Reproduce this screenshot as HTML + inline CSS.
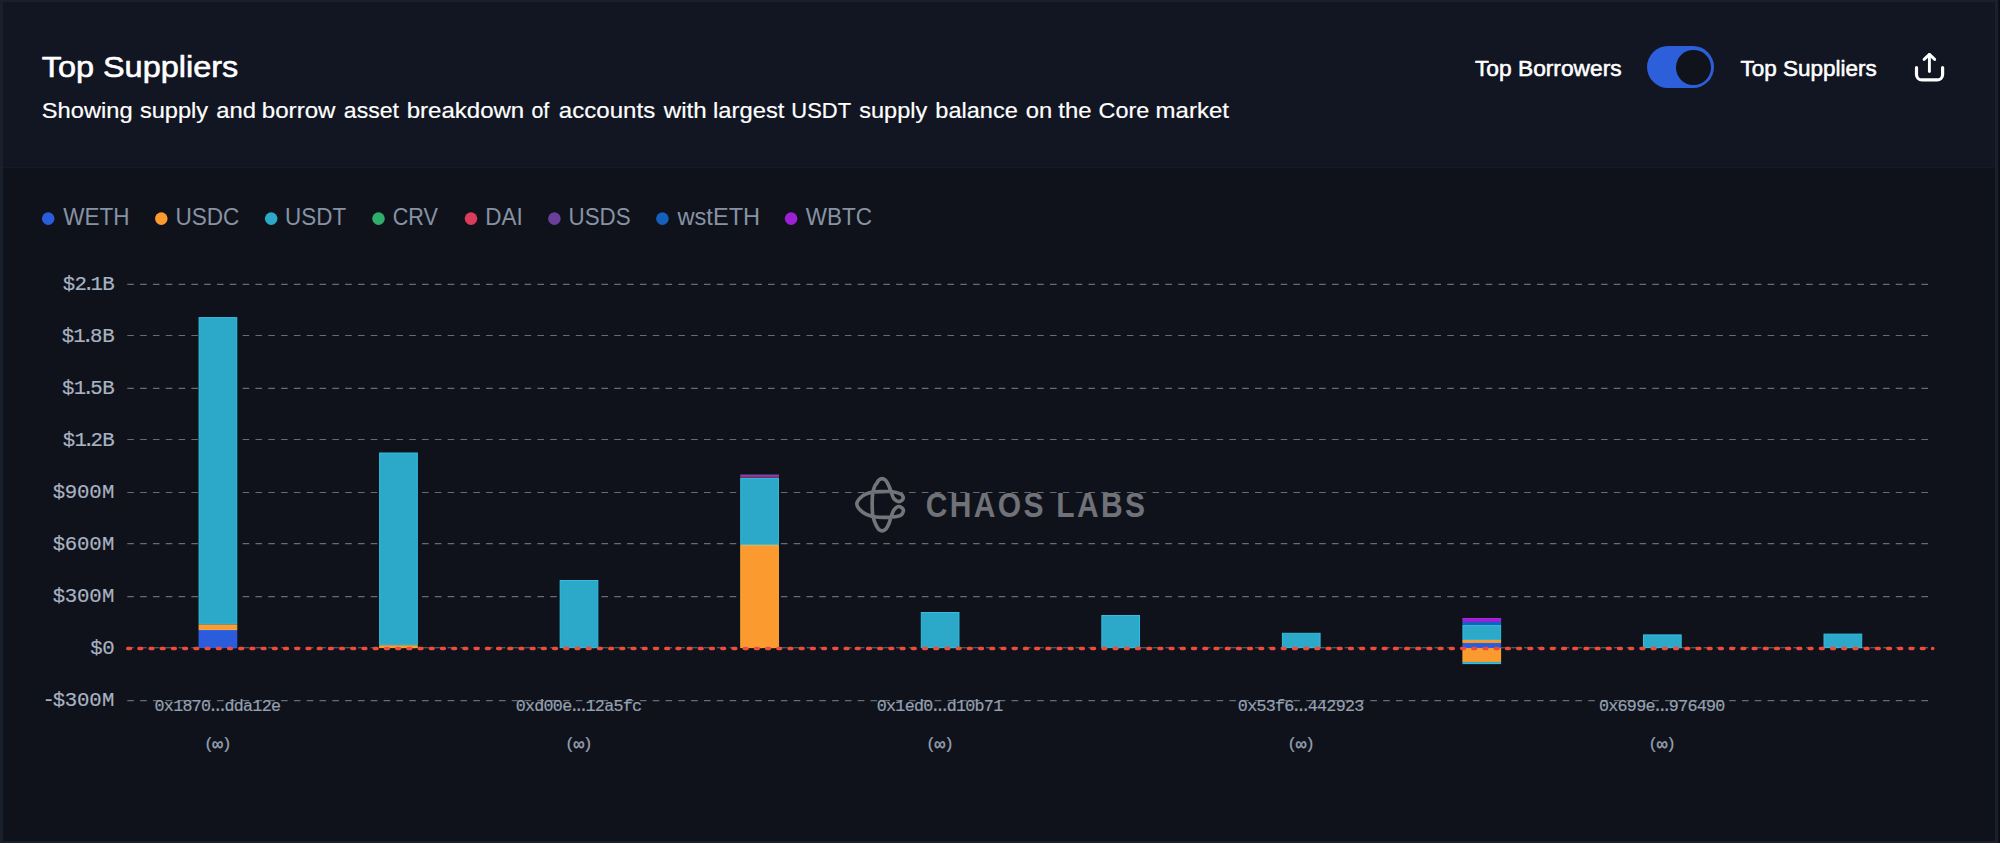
<!DOCTYPE html>
<html lang="en"><head><meta charset="utf-8"><title>Top Suppliers</title>
<style>
html,body{margin:0;padding:0;background:#0c0f17;}
body{width:2000px;height:843px;position:relative;overflow:hidden;font-family:"Liberation Sans",sans-serif;}
.card{position:absolute;left:0;top:0;width:1998.4px;height:843px;box-sizing:border-box;background:#121623;border-style:solid;border-color:#1a1f2c;border-width:2px 3.4px 2px 3px;}
.chart{position:absolute;left:3px;top:168px;width:1992px;height:673px;background:#0f121b;}
.title{font-size:30.4px;fill:#fff;stroke:#fff;stroke-width:0.6px;stroke-linejoin:round}
.sub{font-size:22.5px;fill:#fff;stroke:#fff;stroke-width:0.2px;font-kerning:none}
.tg{font-size:22.4px;fill:#fff;stroke:#fff;stroke-width:0.55px;stroke-linejoin:round}
.switch{position:absolute;left:1646.6px;top:45.6px;width:67.8px;height:42.3px;border-radius:22px;background:#2d5fdb}
.knob{position:absolute;left:1676.2px;top:50.1px;width:34.5px;height:34.5px;border-radius:50%;background:#10131c}
.lt{font-size:23.6px;fill:#8793a3}
.sep{position:absolute;left:3px;top:167px;width:1992px;height:1px;background:#151a28}
svg{position:absolute;left:0;top:0}
.grid{stroke:#676c74;stroke-width:1.2;stroke-dasharray:6.6 6.215}
.zero{stroke:#ee4b3b;stroke-width:3.3;stroke-dasharray:2.9 8.31;stroke-linecap:round}
.yl{font-family:"Liberation Mono",monospace;font-size:20.3px;fill:#a9b3c2;stroke:#a9b3c2;stroke-width:0.18px;text-anchor:middle}
.xl{font-family:"Liberation Mono",monospace;font-size:17.2px;fill:#96a1b1;stroke:#96a1b1;stroke-width:0.2px;text-anchor:middle}
.wmt{font-family:"Liberation Sans",sans-serif;font-weight:700;font-size:35.3px;fill:#707277}
</style></head><body>
<div class="card"></div>
<div class="chart"></div><div class="sep"></div>
<div class="switch"></div><div class="knob"></div>
<svg width="40" height="40" viewBox="0 0 40 40" style="left:1909px;top:46px" fill="none" stroke="#fff" stroke-linecap="round" stroke-linejoin="round">
<path stroke-width="3.2" d="M7.5,21.6 V28.4 a5.5,5.5 0 0 0 5.5,5.5 H28.1 a5.5,5.5 0 0 0 5.5,-5.5 V21.6"/><path stroke-width="2.9" d="M20.4,25.6 V8.8"/><path stroke-width="2.9" d="M15.1,13.4 L20.4,8.4 L25.7,13.4"/></svg>
<svg width="2000" height="843" viewBox="0 0 2000 843">
<text x="41.7" y="76.9" class="title" textLength="196.5" lengthAdjust="spacingAndGlyphs">Top Suppliers</text>
<text y="118.4" class="sub"><tspan x="41.83" textLength="90.80" lengthAdjust="spacingAndGlyphs">Showing</tspan> <tspan x="139.94" textLength="68.20" lengthAdjust="spacingAndGlyphs">supply</tspan> <tspan x="216.39" textLength="39.75" lengthAdjust="spacingAndGlyphs">and</tspan> <tspan x="261.85" textLength="73.59" lengthAdjust="spacingAndGlyphs">borrow</tspan> <tspan x="343.82" textLength="55.15" lengthAdjust="spacingAndGlyphs">asset</tspan> <tspan x="406.65" textLength="117.61" lengthAdjust="spacingAndGlyphs">breakdown</tspan> <tspan x="531.51" textLength="17.76" lengthAdjust="spacingAndGlyphs">of</tspan> <tspan x="558.88" textLength="96.29" lengthAdjust="spacingAndGlyphs">accounts</tspan> <tspan x="663.74" textLength="42.93" lengthAdjust="spacingAndGlyphs">with</tspan> <tspan x="713.05" textLength="71.33" lengthAdjust="spacingAndGlyphs">largest</tspan> <tspan x="791.36" textLength="59.70" lengthAdjust="spacingAndGlyphs">USDT</tspan> <tspan x="859.25" textLength="68.00" lengthAdjust="spacingAndGlyphs">supply</tspan> <tspan x="935.38" textLength="82.46" lengthAdjust="spacingAndGlyphs">balance</tspan> <tspan x="1025.70" textLength="26.44" lengthAdjust="spacingAndGlyphs">on</tspan> <tspan x="1058.34" textLength="33.22" lengthAdjust="spacingAndGlyphs">the</tspan> <tspan x="1098.61" textLength="50.62" lengthAdjust="spacingAndGlyphs">Core</tspan> <tspan x="1155.61" textLength="73.27" lengthAdjust="spacingAndGlyphs">market</tspan></text>
<text x="1475.0" y="76.2" class="tg" textLength="146.6" lengthAdjust="spacingAndGlyphs">Top Borrowers</text>
<text x="1740.5" y="76.2" class="tg" textLength="136.2" lengthAdjust="spacingAndGlyphs">Top Suppliers</text>
<circle cx="48.2" cy="218.6" r="6.3" fill="#2b5cdb"/><text x="63.3" y="225.3" class="lt" textLength="66.3" lengthAdjust="spacingAndGlyphs">WETH</text><circle cx="161.3" cy="218.6" r="6.3" fill="#fb9b2f"/><text x="175.4" y="225.3" class="lt" textLength="64" lengthAdjust="spacingAndGlyphs">USDC</text><circle cx="271.2" cy="218.6" r="6.3" fill="#2ca8c8"/><text x="285.1" y="225.3" class="lt" textLength="61" lengthAdjust="spacingAndGlyphs">USDT</text><circle cx="378.5" cy="218.6" r="6.3" fill="#2fae6b"/><text x="392.7" y="225.3" class="lt" textLength="45.2" lengthAdjust="spacingAndGlyphs">CRV</text><circle cx="471" cy="218.6" r="6.3" fill="#dc3c5c"/><text x="485.3" y="225.3" class="lt" textLength="37.5" lengthAdjust="spacingAndGlyphs">DAI</text><circle cx="554.4" cy="218.6" r="6.3" fill="#6a3f9c"/><text x="568.5" y="225.3" class="lt" textLength="62.2" lengthAdjust="spacingAndGlyphs">USDS</text><circle cx="662.4" cy="218.6" r="6.3" fill="#1560bd"/><text x="677.5" y="225.3" class="lt" textLength="82.6" lengthAdjust="spacingAndGlyphs">wstETH</text><circle cx="791.1" cy="218.6" r="6.3" fill="#9b20d6"/><text x="805.8" y="225.3" class="lt" textLength="66.2" lengthAdjust="spacingAndGlyphs">WBTC</text>
<g class="wm">
<path transform="translate(846,470) scale(0.08304)" d="M435.0,104.0 C447.3,104.0 461.0,110.7 472.0,120.0 C483.0,129.3 492.5,145.3 501.0,160.0 C509.5,174.7 516.3,192.2 523.0,208.0 C529.7,223.8 535.5,239.7 541.0,255.0 C546.5,270.3 549.8,284.8 556.0,300.0 C562.2,315.2 566.3,332.7 578.0,346.0 C589.7,359.3 609.7,377.3 626.0,380.0 C642.3,382.7 665.7,371.2 676.0,362.0 C686.3,352.8 691.2,337.3 688.0,325.0 C684.8,312.7 678.3,298.5 657.0,288.0 C635.7,277.5 596.2,266.7 560.0,262.0 C523.8,257.3 481.7,259.0 440.0,260.0 C398.3,261.0 350.0,259.3 310.0,268.0 C270.0,276.7 230.0,288.3 200.0,312.0 C170.0,335.7 130.0,377.3 130.0,410.0 C130.0,442.7 170.0,483.7 200.0,508.0 C230.0,532.3 270.0,545.7 310.0,556.0 C350.0,566.3 398.3,568.3 440.0,570.0 C481.7,571.7 523.8,570.0 560.0,566.0 C596.2,562.0 635.3,557.5 657.0,546.0 C678.7,534.5 686.8,511.7 690.0,497.0 C693.2,482.3 686.0,467.5 676.0,458.0 C666.0,448.5 645.7,437.3 630.0,440.0 C614.3,442.7 594.0,460.3 582.0,474.0 C570.0,487.7 564.8,506.0 558.0,522.0 C551.2,538.0 546.8,552.3 541.0,570.0 C535.2,587.7 529.7,609.7 523.0,628.0 C516.3,646.3 509.5,664.8 501.0,680.0 C492.5,695.2 483.0,710.0 472.0,719.0 C461.0,728.0 447.3,734.0 435.0,734.0 C422.7,734.0 408.8,728.0 398.0,719.0 C387.2,710.0 379.0,696.5 370.0,680.0 C361.0,663.5 352.0,643.3 344.0,620.0 C336.0,596.7 326.8,575.0 322.0,540.0 C317.2,505.0 315.0,453.3 315.0,410.0 C315.0,366.7 317.2,315.0 322.0,280.0 C326.8,245.0 336.0,220.0 344.0,200.0 C352.0,180.0 361.0,173.3 370.0,160.0 C379.0,146.7 387.2,129.3 398.0,120.0 C408.8,110.7 422.7,104.0 435.0,104.0Z" fill="none" stroke="#737579" stroke-width="44" stroke-linejoin="round"/>
<text transform="translate(925.8,517.4) scale(0.85,1)" x="0" y="0" class="wmt" textLength="257.9" lengthAdjust="spacing">CHAOS LABS</text></g>
<line x1="127.3" x2="1933" y1="284.30" y2="284.30" class="grid"/>
<line x1="127.3" x2="1933" y1="335.50" y2="335.50" class="grid"/>
<line x1="127.3" x2="1933" y1="388.40" y2="388.40" class="grid"/>
<line x1="127.3" x2="1933" y1="439.50" y2="439.50" class="grid"/>
<line x1="127.3" x2="1933" y1="492.50" y2="492.50" class="grid"/>
<line x1="127.3" x2="1933" y1="543.60" y2="543.60" class="grid"/>
<line x1="127.3" x2="1933" y1="596.60" y2="596.60" class="grid"/>
<line x1="127.3" x2="1933" y1="647.75" y2="647.75" class="grid"/>
<line x1="127.3" x2="1933" y1="700.70" y2="700.70" class="grid"/>
<rect x="199.08" y="630.50" width="37.7" height="17.10" fill="#2b5cdb" stroke="#2f63ea" stroke-width="1"/>
<rect x="199.08" y="624.90" width="37.7" height="4.60" fill="#fb9b2f" stroke="#ffa533" stroke-width="1"/>
<rect x="199.08" y="317.60" width="37.7" height="306.30" fill="#2ca8c8" stroke="#33bfe2" stroke-width="1"/>
<rect x="379.62" y="645.70" width="37.7" height="1.90" fill="#fb9b2f" stroke="#ffa533" stroke-width="1"/>
<rect x="379.62" y="453.00" width="37.7" height="191.70" fill="#2ca8c8" stroke="#33bfe2" stroke-width="1"/>
<rect x="560.17" y="580.50" width="37.7" height="67.10" fill="#2ca8c8" stroke="#33bfe2" stroke-width="1"/>
<rect x="740.73" y="545.50" width="37.7" height="102.10" fill="#fb9b2f" stroke="#ffa533" stroke-width="1"/>
<rect x="740.73" y="478.40" width="37.7" height="66.10" fill="#2ca8c8" stroke="#33bfe2" stroke-width="1"/>
<rect x="740.23" y="476.80" width="38.7" height="1.10" fill="#98285a"/>
<rect x="740.73" y="475.00" width="37.7" height="1.30" fill="#6a3f9c" stroke="#7c4ab2" stroke-width="1"/>
<rect x="921.27" y="612.50" width="37.7" height="35.10" fill="#2ca8c8" stroke="#33bfe2" stroke-width="1"/>
<rect x="1101.83" y="615.50" width="37.7" height="32.10" fill="#2ca8c8" stroke="#33bfe2" stroke-width="1"/>
<rect x="1282.38" y="633.30" width="37.7" height="14.30" fill="#2ca8c8" stroke="#33bfe2" stroke-width="1"/>
<rect x="1462.93" y="643.40" width="37.7" height="4.20" fill="#2b5cdb" stroke="#2f63ea" stroke-width="1"/>
<rect x="1462.93" y="640.40" width="37.7" height="2.00" fill="#fb9b2f" stroke="#ffa533" stroke-width="1"/>
<rect x="1462.93" y="625.40" width="37.7" height="14.00" fill="#2ca8c8" stroke="#33bfe2" stroke-width="1"/>
<rect x="1462.93" y="622.30" width="37.7" height="2.10" fill="#1560bd" stroke="#1768cc" stroke-width="1"/>
<rect x="1462.93" y="618.50" width="37.7" height="2.80" fill="#9b20d6" stroke="#a826e6" stroke-width="1"/>
<rect x="1462.93" y="648.60" width="37.7" height="13.10" fill="#fb9b2f" stroke="#ffa533" stroke-width="1"/>
<rect x="1462.93" y="662.70" width="37.7" height="0.90" fill="#2ca8c8" stroke="#33bfe2" stroke-width="1"/>
<rect x="1643.48" y="634.90" width="37.7" height="12.70" fill="#2ca8c8" stroke="#33bfe2" stroke-width="1"/>
<rect x="1824.03" y="634.10" width="37.7" height="13.50" fill="#2ca8c8" stroke="#33bfe2" stroke-width="1"/>
<line x1="127.65" x2="1932.9" y1="648.5" y2="648.5" class="zero"/>
<g transform="scale(1.02,1)"><text x="67.60 79.07 87.01 94.95 106.42" y="289.90" class="yl">$2.1B</text></g>
<g transform="scale(1.02,1)"><text x="66.52 77.99 85.93 94.41 106.42" y="341.95" class="yl">$1.8B</text></g>
<g transform="scale(1.02,1)"><text x="67.01 78.48 86.42 94.66 106.42" y="394.00" class="yl">$1.5B</text></g>
<g transform="scale(1.02,1)"><text x="67.60 79.07 87.01 94.95 106.42" y="446.05" class="yl">$1.2B</text></g>
<g transform="scale(1.02,1)"><text x="57.89 69.61 81.57 93.53 106.13" y="498.10" class="yl">$900M</text></g>
<g transform="scale(1.02,1)"><text x="57.89 69.61 81.57 93.53 106.13" y="550.15" class="yl">$600M</text></g>
<g transform="scale(1.02,1)"><text x="57.89 69.61 81.57 93.53 106.13" y="602.20" class="yl">$300M</text></g>
<g transform="scale(1.02,1)"><text x="94.66 106.37" y="654.25" class="yl">$0</text></g>
<g transform="scale(1.02,1)"><text x="47.89 57.89 69.61 81.57 93.53 106.13" y="706.30" class="yl">-$300M</text></g>
<g transform="scale(0.97,1)"><text x="164.51 174.10 183.69 193.27 202.86 212.45 219.66 224.51 229.36 236.57 246.16 255.75 265.34 274.92 284.51" y="710.80" class="xl">0x1870...dda12e</text></g>
<text x="208.88 217.78 226.68" y="749.4 750.3 749.4" class="xl" style="font-size:16.6px">(<tspan style="stroke-width:0.45px;font-size:18px">∞</tspan>)</text>
<g transform="scale(0.97,1)"><text x="536.78 546.37 555.95 565.54 575.13 584.72 591.93 596.78 601.62 608.84 618.43 628.02 637.60 647.19 656.78" y="710.80" class="xl">0xd00e...12a5fc</text></g>
<text x="569.98 578.88 587.77" y="749.4 750.3 749.4" class="xl" style="font-size:16.6px">(<tspan style="stroke-width:0.45px;font-size:18px">∞</tspan>)</text>
<g transform="scale(0.97,1)"><text x="909.05 918.63 928.22 937.81 947.40 956.98 964.20 969.05 973.89 981.11 990.70 1000.28 1009.87 1019.46 1029.05" y="710.80" class="xl">0x1ed0...d10b71</text></g>
<text x="931.08 939.98 948.88" y="749.4 750.3 749.4" class="xl" style="font-size:16.6px">(<tspan style="stroke-width:0.45px;font-size:18px">∞</tspan>)</text>
<g transform="scale(0.97,1)"><text x="1281.31 1290.90 1300.49 1310.08 1319.66 1329.25 1336.47 1341.31 1346.16 1353.38 1362.96 1372.55 1382.14 1391.73 1401.31" y="710.80" class="xl">0x53f6...442923</text></g>
<text x="1292.17 1301.08 1309.98" y="749.4 750.3 749.4" class="xl" style="font-size:16.6px">(<tspan style="stroke-width:0.45px;font-size:18px">∞</tspan>)</text>
<g transform="scale(0.97,1)"><text x="1653.58 1663.17 1672.76 1682.35 1691.93 1701.52 1708.74 1713.58 1718.43 1725.64 1735.23 1744.82 1754.41 1763.99 1773.58" y="710.80" class="xl">0x699e...976490</text></g>
<text x="1653.28 1662.18 1671.08" y="749.4 750.3 749.4" class="xl" style="font-size:16.6px">(<tspan style="stroke-width:0.45px;font-size:18px">∞</tspan>)</text>
</svg>
</body></html>
